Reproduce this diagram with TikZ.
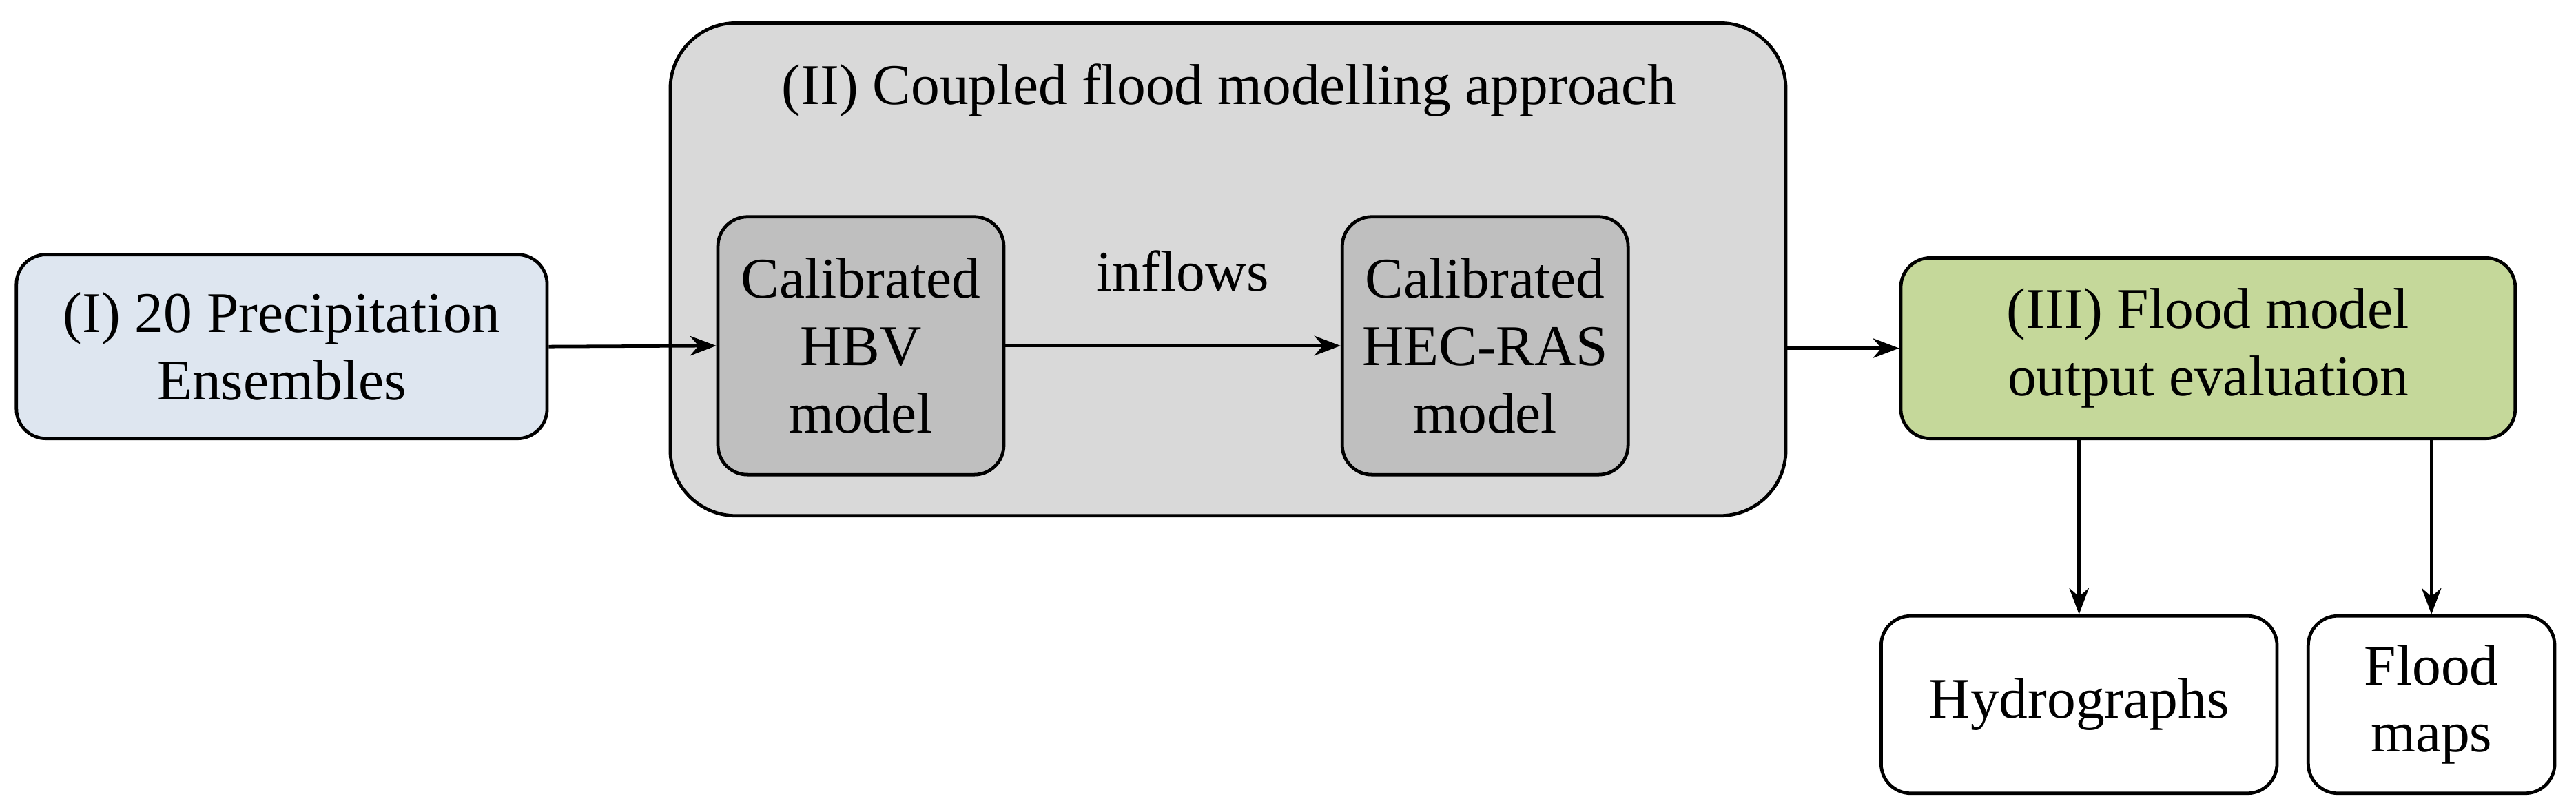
\documentclass[tikz,border=0pt]{standalone}
\usepackage{fontspec}
\setmainfont{Liberation Serif}
\usetikzlibrary{arrows.meta}
\definecolor{cI}{HTML}{DEE6F0}
\definecolor{cII}{HTML}{D9D9D9}
\definecolor{cin}{HTML}{BFBFBF}
\definecolor{cIII}{HTML}{C5D89A}
\tikzset{
 txt/.style={font=\fontsize{35}{41}\selectfont},
 box/.style={draw=black,line width=2pt,rounded corners=18pt,align=center,inner sep=0pt,txt},
 arr/.style={line width=2pt,-{Stealth[length=16pt,width=12pt]}}
}
\begin{document}
\begin{tikzpicture}[x=1pt,y=-1pt]
\useasboundingbox (0,0) rectangle (1568,493);
\node[box,rounded corners=40pt,fill=cII,minimum width=679pt,minimum height=300pt] (II) at (747.5,164) {};
\node[txt] (t2) at (748,55) {(II)\ Coupled flood modelling approach};
\node[box,fill=cI,minimum width=323pt,minimum height=112pt] (I) at (171.5,211) {(I)\ 20 Precipitation\\Ensembles};
\node[box,fill=cin,minimum width=174pt,minimum height=157pt] (HBV) at (524,210.5) {Calibrated\\HBV\\model};
\node[box,fill=cin,minimum width=174pt,minimum height=157pt] (HEC) at (904,210.5) {Calibrated\\HEC-RAS\\model};
\node[box,fill=cIII,minimum width=374pt,minimum height=110pt] (III) at (1344,212) {(III)\ Flood model\\output evaluation};
\node[box,fill=white,minimum width=241pt,minimum height=108pt] (H) at (1265.5,429) {Hydrographs};
\node[box,fill=white,minimum width=150pt,minimum height=108pt] (F) at (1480,429) {Flood\\maps};
\node[txt] (inf) at (720,165) {inflows};
\draw[arr] (I.east) -- (HBV.west);
\draw[arr] (HBV.east) -- (HEC.west);
\draw[arr] (II.east |- III.west) -- (III.west);
\draw[arr] (H.north |- III.south) -- (H.north);
\draw[arr] (F.north |- III.south) -- (F.north);
\end{tikzpicture}
\end{document}
